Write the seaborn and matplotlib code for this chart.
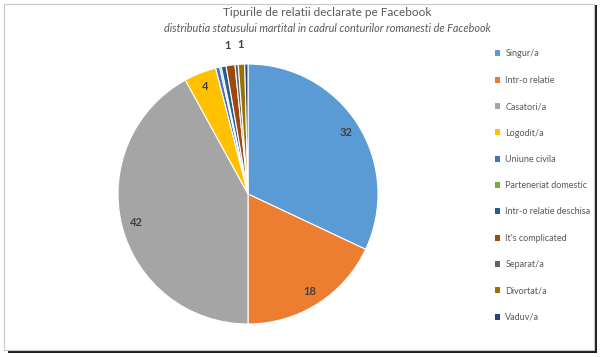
import matplotlib
matplotlib.use("Agg")
import matplotlib.pyplot as plt
import seaborn as sns
import numpy as np
from matplotlib.patches import Rectangle, Patch

categories = ["Singur/a", "Intr-o relatie", "Casatori/a", "Logodit/a", "Uniune civila",
              "Parteneriat domestic", "Intr-o relatie deschisa", "It's complicated",
              "Separat/a", "Divortat/a", "Vaduv/a"]
values = [32, 18, 42, 4, 0.5, 0.2, 0.6, 1.1, 0.4, 0.8, 0.4]
value_labels = ["32", "18", "42", "4", "", "", "", "1", "", "1", ""]
colors = ["#5B9BD5", "#ED7D31", "#A5A5A5", "#FFC000", "#4472C4", "#70AD47",
          "#255E91", "#9E480E", "#636363", "#997300", "#264478"]

sns.set_theme(style="white")
plt.rcParams['font.family'] = ['Lato', 'DejaVu Sans']

fig = plt.figure(figsize=(6, 3.57), dpi=100)
fig.patch.set_facecolor("white")

# frame and shadow
fig.patches.append(Rectangle((8/600, 1-353/357), 589/600, 348/357, transform=fig.transFigure,
                             facecolor="#222222", edgecolor="none", zorder=0))
fig.patches.append(Rectangle((4/600, 1-350/357), 590/600, 346/357, transform=fig.transFigure,
                             facecolor="white", edgecolor="#C8C8C8", lw=0.8, zorder=0.5))

R = 130
cx, cy = 248, 194
ax = fig.add_axes([(cx - R) / 600, (357 - cy - R) / 357, 2 * R / 600, 2 * R / 357])
ax.set_zorder(2)
ax.patch.set_alpha(0)
wedges, _ = ax.pie(values, colors=colors, startangle=90, counterclock=False,
                   wedgeprops=dict(edgecolor="white", linewidth=0.8))
theta = 90.0
total = sum(values)
for v, lab in zip(values, value_labels):
    span = 360.0 * v / total
    mid = np.deg2rad(theta - span / 2)
    theta -= span
    if not lab:
        continue
    r = 0.89 if v >= 3 else 1.15
    ax.text(r * np.cos(mid), r * np.sin(mid), lab, ha="center", va="center",
            fontsize=8, fontweight="bold", color="#404040")
ax.set_xlim(-1, 1)
ax.set_ylim(-1, 1)
ax.set_aspect("equal")
ax.axis("off")

t1 = fig.text(327 / 600, 1 - 13 / 357, "Tipurile de relatii declarate pe Facebook",
              ha="center", va="center", fontsize=8.5, color="#595959")
t2 = fig.text(327 / 600, 1 - 28 / 357,
              "distributia statusului martital in cadrul conturilor romanesti de Facebook",
              ha="center", va="center", fontsize=7.8, style="italic", color="#595959")
t1.set_zorder(3)
t2.set_zorder(3)

handles = [Patch(facecolor=c, edgecolor="none") for c in colors]
leg = fig.legend(handles, categories, loc="upper left", bbox_to_anchor=(494.5 / 600, 1 - 49.5 / 357),
                 frameon=False, fontsize=6.5, handlelength=0.6, handleheight=0.6,
                 handletextpad=0.6, labelspacing=1.92, labelcolor="#595959", borderaxespad=0,
                 borderpad=0)
leg.set_zorder(3)

fig.savefig("out.png", dpi=100, facecolor="white")
